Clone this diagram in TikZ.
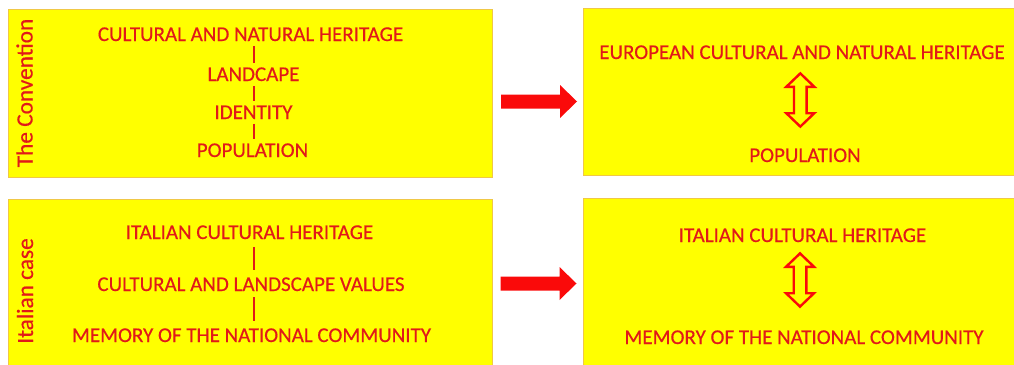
\documentclass[tikz,border=0pt]{standalone}
\usepackage{fontspec}
\setmainfont{Carlito}[FakeBold=0.4]
\usetikzlibrary{calc}
\definecolor{boxyellow}{RGB}{255,255,0}
\definecolor{boxedge}{RGB}{240,200,70}
\definecolor{txtred}{RGB}{225,25,25}
\definecolor{arrred}{RGB}{250,10,10}
\tikzset{
  box/.style={draw=boxedge, line width=0.9pt, fill=boxyellow, inner sep=0pt, anchor=north west},
  txt/.style={text=txtred, inner sep=0pt, anchor=base, font=\fontsize{21}{25}\selectfont},
  sidelabel/.style={text=txtred, inner sep=0pt, anchor=base, rotate=90, font=\fontsize{23.3}{27}\selectfont},
  vline/.style={draw=txtred, line width=2pt},
  dblarrow/.pic={
    \draw[arrred, line width=2.4pt, fill=boxyellow, line join=miter]
      (0,-26.6) -- (14,-13.2) -- (6.3,-13.2) -- (6.3,13.2) -- (14,13.2) -- (0,26.6)
      -- (-14,13.2) -- (-6.3,13.2) -- (-6.3,-13.2) -- (-14,-13.2) -- cycle;
  },
  blockarrow/.pic={
    \fill[arrred] (0,-7) -- (59,-7) -- (59,-16.5) -- (76,0) -- (59,16.5) -- (59,7) -- (0,7) -- cycle;
  }
}
\begin{document}
\begin{tikzpicture}[x=1pt,y=-1pt]
\useasboundingbox (0,0) rectangle (1014,364);
% boxes
\node[box, minimum width=484.5pt, minimum height=168pt] (b1) at (7.5,9) {};
\node[box, minimum width=430.5pt, minimum height=167pt] (b2) at (583,8) {};
\node[box, minimum width=484.5pt, minimum height=168pt] (b3) at (7.5,199) {};
\node[box, minimum width=430.5pt, minimum height=168pt] (b4) at (583,198) {};
% side labels
\node[sidelabel] (s1) at (32.5,93) {The Convention};
\node[sidelabel] (s3) at (33,291) {Italian case};
% box 1
\node[txt] (t11) at (250.5,41) {CULTURAL AND NATURAL HERITAGE};
\node[txt] (t12) at (253.5,81) {LANDCAPE};
\node[txt] (t13) at (253.5,119) {IDENTITY};
\node[txt] (t14) at (252.5,157) {POPULATION};
\coordinate (lx1) at (254,0);
\draw[vline, shorten <=4.5pt, shorten >=4.5pt] (t11.south -| lx1) -- (t12.north -| lx1);
\draw[vline, shorten <=4.5pt, shorten >=4.5pt] (t12.south -| lx1) -- (t13.north -| lx1);
\draw[vline, shorten <=4.5pt, shorten >=4.5pt] (t13.south -| lx1) -- (t14.north -| lx1);
% box 3
\node[txt] (t31) at (249.5,239) {ITALIAN CULTURAL HERITAGE};
\node[txt] (t32) at (251,291) {CULTURAL AND LANDSCAPE VALUES};
\node[txt] (t33) at (251.5,342) {MEMORY OF THE NATIONAL COMMUNITY};
\draw[vline, shorten <=7.5pt, shorten >=7.5pt] (t31.south -| lx1) -- (t32.north -| lx1);
\draw[vline, shorten <=6pt, shorten >=7.5pt] (t32.south -| lx1) -- (t33.north -| lx1);
% box 2
\node[txt] (t21) at (802,59) {EUROPEAN CULTURAL AND NATURAL HERITAGE};
\node[txt] (t22) at (805,162) {POPULATION};
\coordinate (d1) at (800.3,100);
\pic at (d1) {dblarrow};
% box 4
\node[txt] (t41) at (802.5,242) {ITALIAN CULTURAL HERITAGE};
\node[txt] (t42) at (804,344) {MEMORY OF THE NATIONAL COMMUNITY};
\coordinate (d2) at (800,280);
\pic at (d2) {dblarrow};
% block arrows
\coordinate (a1) at (501,101.5);
\pic at (a1) {blockarrow};
\coordinate (a2) at (500.5,283.5);
\pic at (a2) {blockarrow};
\end{tikzpicture}
\end{document}
